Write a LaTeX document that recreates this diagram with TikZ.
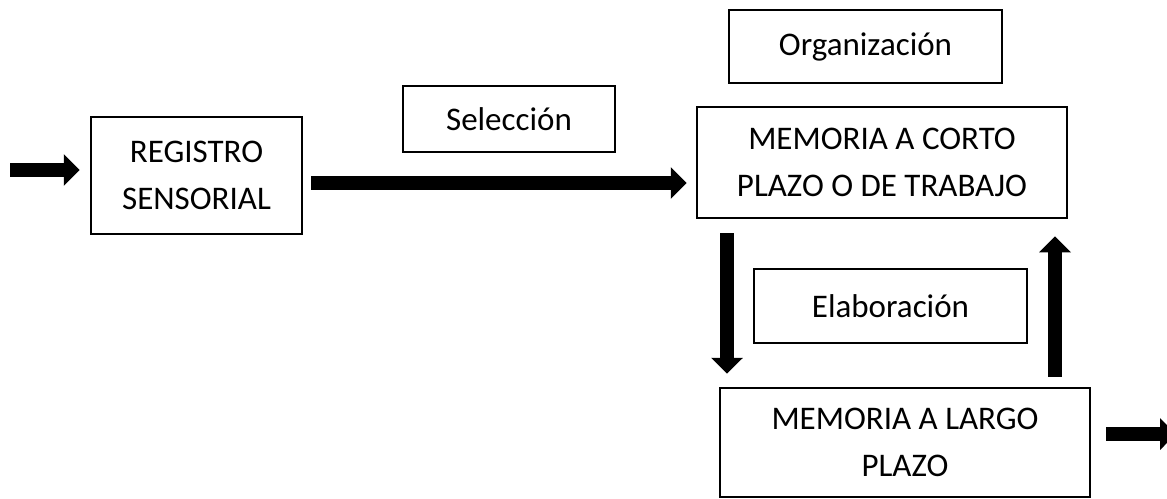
\documentclass[tikz,border=0pt]{standalone}
\usepackage{fontspec}
\setmainfont{Carlito}
\usetikzlibrary{arrows.meta,calc}
\begin{document}
\begin{tikzpicture}[x=1pt,y=-1pt,
  box/.style={draw=black,line width=2.5pt,inner sep=0pt,align=center,
    font=\fontsize{33}{47}\selectfont},
  bigarrow/.style={line width=14pt,-{Triangle[width=31pt,length=16pt]}}]
\useasboundingbox (0,0) rectangle (1167,498);
\node[box,minimum width=211pt,minimum height=117pt] (reg) at (196.5,175.5) {REGISTRO\\SENSORIAL};
\node[box,minimum width=212pt,minimum height=66pt] (sel) at (509,119) {Selección};
\node[box,minimum width=273pt,minimum height=73pt] (org) at (865.5,46.5) {Organización};
\node[box,minimum width=370pt,minimum height=111pt] (mcp) at (882,162.5) {MEMORIA A CORTO\\PLAZO O DE TRABAJO};
\node[box,minimum width=273pt,minimum height=74pt] (ela) at (890.5,306) {Elaboración};
\node[box,minimum width=370pt,minimum height=109pt] (mlp) at (905,442.5) {MEMORIA A LARGO\\PLAZO};
\coordinate (in) at (10,170);
\coordinate (out) at (1176,434);
\coordinate (ymain) at (0,183);
\coordinate (xdown) at (727,0);
\coordinate (xup) at (1055,0);
\draw[bigarrow,shorten >=10pt] (in) -- (in -| reg.west);
\draw[bigarrow,shorten <=8pt,shorten >=9pt] (reg.east |- ymain) -- (mcp.west |- ymain);
\draw[bigarrow,shorten <=14pt,shorten >=13pt] (xdown |- mcp.south) -- (xdown |- mlp.north);
\draw[bigarrow,shorten <=10pt,shorten >=17pt] (xup |- mlp.north) -- (xup |- mcp.south);
\draw[bigarrow,shorten <=15pt] (mlp.east |- out) -- (out);
\end{tikzpicture}
\end{document}
